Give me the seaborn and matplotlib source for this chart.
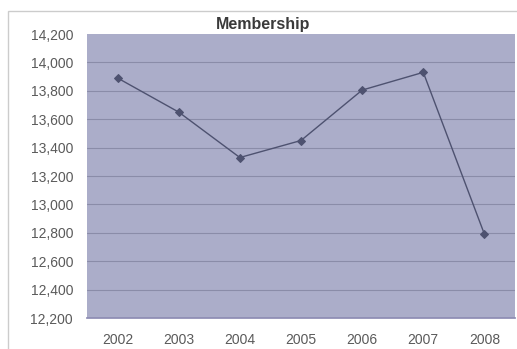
import matplotlib
matplotlib.use("Agg")
import matplotlib.pyplot as plt
import matplotlib.patches as mpatches
import seaborn as sns
import pandas as pd

years = ["2002", "2003", "2004", "2005", "2006", "2007", "2008"]
members = [13890, 13650, 13330, 13450, 13805, 13930, 12790]
y_ticks = list(range(12200, 14201, 200))

sns.set_theme(style="white")
plt.rcParams["font.family"] = ["Liberation Sans", "DejaVu Sans"]

df = pd.DataFrame({"year": years, "members": members})

W, H = 517, 349
fig = plt.figure(figsize=(W / 100, H / 100), dpi=100)
fig.patch.set_facecolor("white")

# light outer frame of the chart
frame = mpatches.Rectangle((8 / W, -0.05), 1.2, 1 - 11 / H + 0.05,
                           transform=fig.transFigure, fill=False,
                           edgecolor="#cccccc", linewidth=1.0)
fig.patches.append(frame)

ax = fig.add_axes([87 / W, 1 - 318 / H, (515 - 87) / W, (318 - 34) / H])
ax.set_facecolor("#abadc9")

sns.lineplot(data=df, x="year", y="members", ax=ax, color="#4e5270",
             linewidth=1.0, marker="D", markersize=4,
             markeredgecolor="#4e5270", sort=False)

ax.set_ylim(12200, 14200)
ax.set_xlim(-0.5, len(years) - 0.5)
ax.set_yticks(y_ticks)
ax.set_yticklabels([f"{v:,}" for v in y_ticks])
for v in y_ticks[1:-1]:
    ax.axhline(v, color="#8a8ca8", linewidth=0.8, zorder=0)

ax.set_xlabel("")
ax.set_ylabel("")
for s in ax.spines.values():
    s.set_visible(False)
ax.spines["bottom"].set_visible(True)
ax.spines["bottom"].set_color("#8e8cb4")
ax.tick_params(axis="both", colors="#5a5a5a", labelsize=10, length=0)
ax.tick_params(axis="x", pad=11)
ax.tick_params(axis="y", pad=10)

fig.text(263 / W, 1 - 24 / H, "Membership", ha="center", va="center",
         fontsize=11.5, fontweight="bold", color="#3a3a3a")

fig.savefig("out.png", dpi=100)
